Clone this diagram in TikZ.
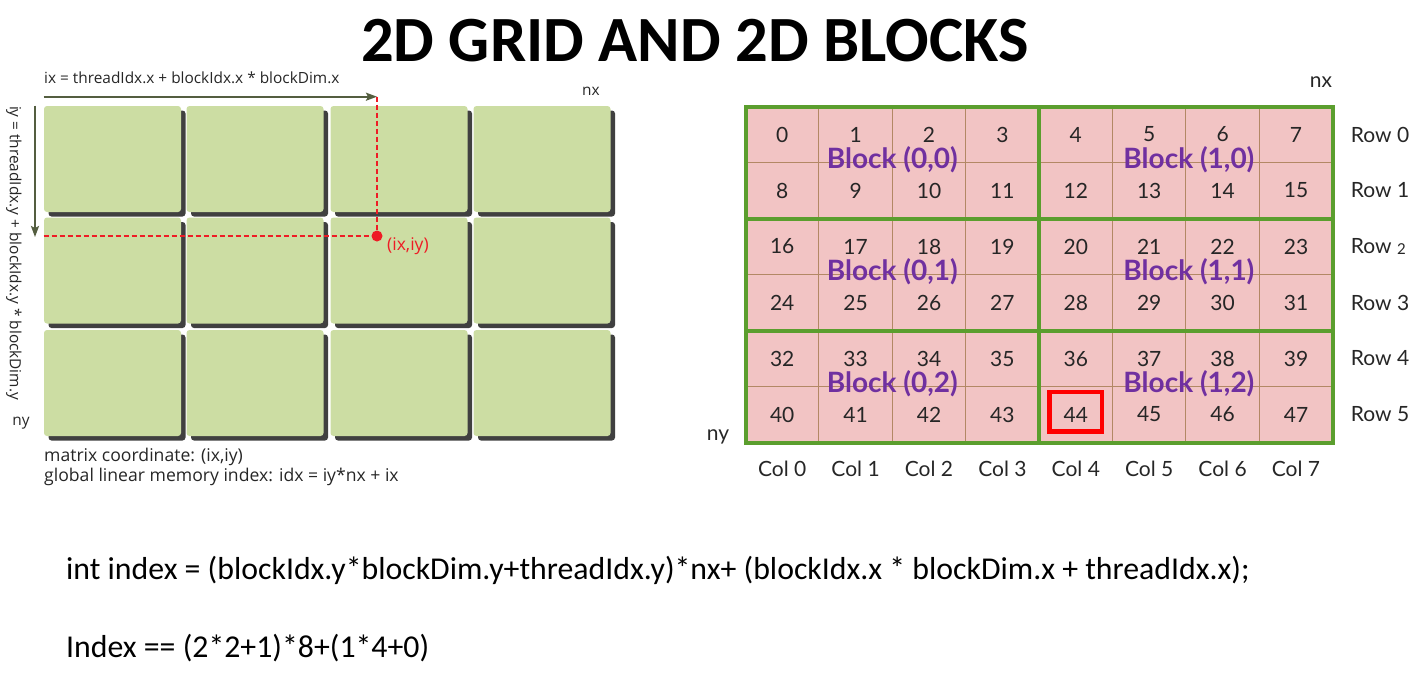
\documentclass[tikz,border=0pt]{standalone}
\usepackage{fontspec}
\setmainfont{Carlito}
\newfontfamily\uifont{Open Sans}
\newfontfamily\gridfont{Lato}
\usetikzlibrary{arrows.meta,shadows}

\definecolor{tilegreen}{HTML}{CCDDA3}
\definecolor{tileshadow}{HTML}{404040}
\definecolor{axisolive}{HTML}{545E40}
\definecolor{cellpink}{HTML}{F2C4C4}
\definecolor{cellline}{HTML}{B38865}
\definecolor{blockgreen}{HTML}{5B9E2E}
\definecolor{blockpurple}{HTML}{7030A0}
\definecolor{markred}{HTML}{EE1C25}
\definecolor{inktext}{HTML}{262626}

\tikzset{
  tile/.style={rectangle, rounded corners=3pt, fill=tilegreen, inner sep=0pt,
    minimum width=137pt, minimum height=106pt,
    drop shadow={shadow xshift=4.5pt, shadow yshift=-4.5pt, fill=tileshadow, opacity=1}},
  axis/.style={draw=axisolive, line width=2pt, -{Stealth[length=11pt,width=8pt,inset=2pt]}},
  guide/.style={draw=markred, line width=1.3pt, dash pattern=on 5pt off 3pt},
  smalltext/.style={font=\uifont\fontsize{15.4}{15.4}\selectfont, text=inktext, inner sep=0pt},
  notetext/.style={font=\uifont\fontsize{17.6}{17.6}\selectfont, text=inktext, inner sep=0pt, anchor=west},
  cell/.style={draw=cellline, line width=1pt, fill=cellpink, inner sep=0pt, outer sep=0pt,
    minimum width=73.4pt, minimum height=56pt,
    font=\gridfont\fontsize{21}{21}\selectfont, text=inktext},
  gridlabel/.style={font=\gridfont\fontsize{21}{21}\selectfont, text=inktext, inner sep=0pt},
  blockline/.style={draw=blockgreen, line width=4pt},
  blocklabel/.style={font=\gridfont\bfseries\fontsize{28}{28}\selectfont, text=blockpurple, inner sep=0pt},
  codetext/.style={font=\fontsize{31.8}{31.8}\selectfont, text=black, inner sep=0pt, anchor=west}
}

\begin{document}
\begin{tikzpicture}[x=1pt,y=-1pt]
\useasboundingbox (0,0) rectangle (1421,677);

% title
\node[font=\bfseries\fontsize{64.5}{64.5}\selectfont, inner sep=0pt] (title) at (695,41) {2D GRID AND 2D BLOCKS};

% ---------- left: grid of blocks ----------
\foreach \r/\y in {0/159,1/270.5,2/383}
  \foreach \c/\x in {0/112.5,1/255,2/399,3/542}
    \node[tile] (t-\r-\c) at (\x,\y) {};

\coordinate (xstart) at (43.7,96.7);
\coordinate (xend) at (377,96.7);
\coordinate (ystart) at (35,105.7);
\coordinate (yend) at (35,237);
\coordinate (hstart) at (43.7,236);
\draw[axis] (xstart) -- (xend);
\draw[axis] (ystart) -- (yend);

\node[circle, fill=markred, minimum size=11pt, inner sep=0pt] (pt) at (377,236) {};
\draw[guide] (xend) -- (pt.center);
\draw[guide] (hstart) -- (pt.center);
\node[smalltext, text=markred, anchor=west, font=\uifont\fontsize{17.5}{17.5}\selectfont] (ptlabel) at (387,246) {(ix,iy)};

\node[smalltext, anchor=west] (ixlabel) at (44,78) {ix = threadIdx.x + blockIdx.x * blockDim.x};
\node[smalltext, rotate=-90] (iylabel) at (14,253) {iy = threadIdx.y + blockIdx.y * blockDim.y};
\node[smalltext] (nxleft) at (591,91) {nx};
\node[smalltext] (nyleft) at (21,423) {ny};
\node[notetext] (coordnote) at (44,457) {matrix coordinate: (ix,iy)};
\node[notetext] (idxnote) at (44,477) {global linear memory index: idx = iy*nx + ix};

% ---------- right: 8 x 6 thread matrix ----------
\foreach \r in {0,...,5}
  \foreach \c in {0,...,7} {
    \pgfmathtruncatemacro{\num}{8*\r+\c}
    \node[cell] (c-\r-\c) at ({745.5+73.4*(\c+0.5)},{106.5+56*(\r+0.5)}) {\num};
  }

% block boundaries
\draw[blockline] (c-0-0.north west) rectangle (c-5-7.south east);
\draw[blockline] (c-0-3.north east) -- (c-5-3.south east);
\draw[blockline] (c-1-0.south west) -- (c-1-7.south east);
\draw[blockline] (c-3-0.south west) -- (c-3-7.south east);

% block names
\foreach \by/\r in {0/1,1/3,2/5} {
  \pgfmathtruncatemacro{\rr}{\r-1}
  \node[blocklabel, yshift=2.5pt] (b-0-\by) at (c-\rr-1.south east) {Block (0,\by)};
  \node[blocklabel, yshift=2.5pt, xshift=3pt] (b-1-\by) at (c-\rr-5.south east) {Block (1,\by)};
}

% highlighted thread
\node[draw=red, line width=4.5pt, minimum width=52.5pt, minimum height=39.5pt, inner sep=0pt] (hl) at (c-5-4) [yshift=3pt] {};

% row and column labels
\foreach \r in {0,1,3,4,5}
  \node[gridlabel, anchor=west, xshift=18pt] (row-\r) at (c-\r-7.east) {Row \r};
\node[gridlabel, anchor=west, xshift=18pt] (row-2) at (c-2-7.east) {Row {\fontsize{15}{15}\selectfont\raisebox{-1pt}{2}}};
\foreach \c in {0,...,7}
  \node[gridlabel, yshift=-26pt] (col-\c) at (c-5-\c.south) {Col \c};

\node[gridlabel] (nxright) at (1321,82) {nx};
\node[gridlabel] (nyright) at (718,437) {ny};

% ---------- index formula ----------
\node[codetext] (code1) at (66,570) {int index = (blockIdx.y*blockDim.y+threadIdx.y)*nx+ (blockIdx.x * blockDim.x + threadIdx.x);};
\node[codetext] (code2) at (66,648) {Index == (2*2+1)*8+(1*4+0)};
\end{tikzpicture}
\end{document}
